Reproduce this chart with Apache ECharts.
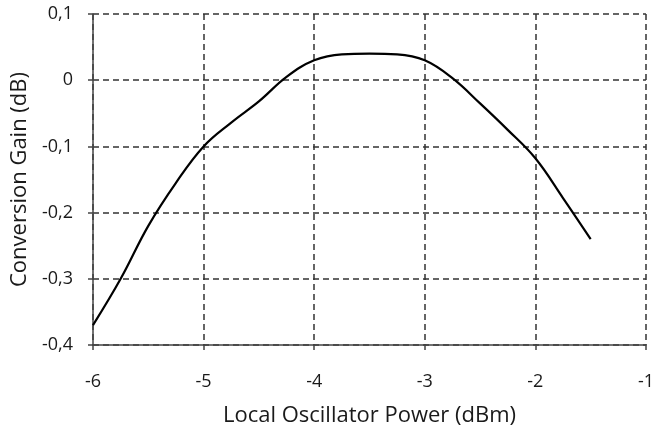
<!DOCTYPE html>
<html>
<head>
<meta charset="utf-8">
<script src="https://cdn.jsdelivr.net/npm/echarts@6/dist/echarts.min.js"></script>
<style>
  html, body { margin: 0; padding: 0; background: #fff; }
  #chart { width: 657px; height: 437px; }
</style>
</head>
<body>
<div id="chart"></div>
<script>
// local oscillator power (dBm) and conversion gain (dB)
var loPower = [-6, -5.75, -5.5, -5.25, -5, -4.75, -4.5, -4.25, -4, -3.75, -3.5, -3.25, -3, -2.75, -2.5, -2.25, -2, -1.75, -1.5];
var convGain = [-0.37, -0.3, -0.22, -0.155, -0.1, -0.064, -0.032, 0.005, 0.03, 0.039, 0.04, 0.039, 0.03, 0.003, -0.035, -0.075, -0.118, -0.178, -0.24];

var fontName = "Open Sans";
var points = loPower.map(function (x, i) { return [x, convGain[i]]; });

var chart = echarts.init(document.getElementById("chart"));
chart.setOption({
  animation: false,
  grid: { left: 93, right: 10, top: 14, bottom: 92 },
  xAxis: {
    type: "value",
    min: -6,
    max: -1,
    interval: 1,
    name: "Local Oscillator Power (dBm)",
    nameLocation: "middle",
    nameGap: 60,
    nameTextStyle: { fontFamily: fontName, fontSize: 22, color: "#1a1a1a" },
    axisLine: { onZero: false, lineStyle: { color: "#444", width: 1.5 } },
    axisTick: { show: true, length: 5, lineStyle: { color: "#444", width: 1.5 } },
    axisLabel: { fontFamily: fontName, fontSize: 18, color: "#1a1a1a", margin: 28 },
    splitLine: { show: true, lineStyle: { type: [6, 4], color: "#333", width: 1.5 } }
  },
  yAxis: {
    type: "value",
    min: -0.4,
    max: 0.1,
    interval: 0.1,
    name: "Conversion Gain (dB)",
    nameLocation: "middle",
    nameGap: 62,
    nameTextStyle: { fontFamily: fontName, fontSize: 22, color: "#1a1a1a" },
    axisLine: { show: true, onZero: false, lineStyle: { color: "#444", width: 1.5 } },
    axisTick: { show: true, length: 5, lineStyle: { color: "#444", width: 1.5 } },
    axisLabel: {
      fontFamily: fontName,
      fontSize: 18,
      color: "#1a1a1a",
      margin: 20,
      formatter: function (v) {
        var s = (Math.round(v * 10) / 10).toString();
        return s.replace(".", ",");
      }
    },
    splitLine: { show: true, lineStyle: { type: [6, 4], color: "#333", width: 1.5 } }
  },
  series: [
    {
      type: "line",
      data: points,
      smooth: 0.4,
      showSymbol: false,
      lineStyle: { color: "#000", width: 2.2 }
    }
  ]
});
</script>
</body>
</html>
